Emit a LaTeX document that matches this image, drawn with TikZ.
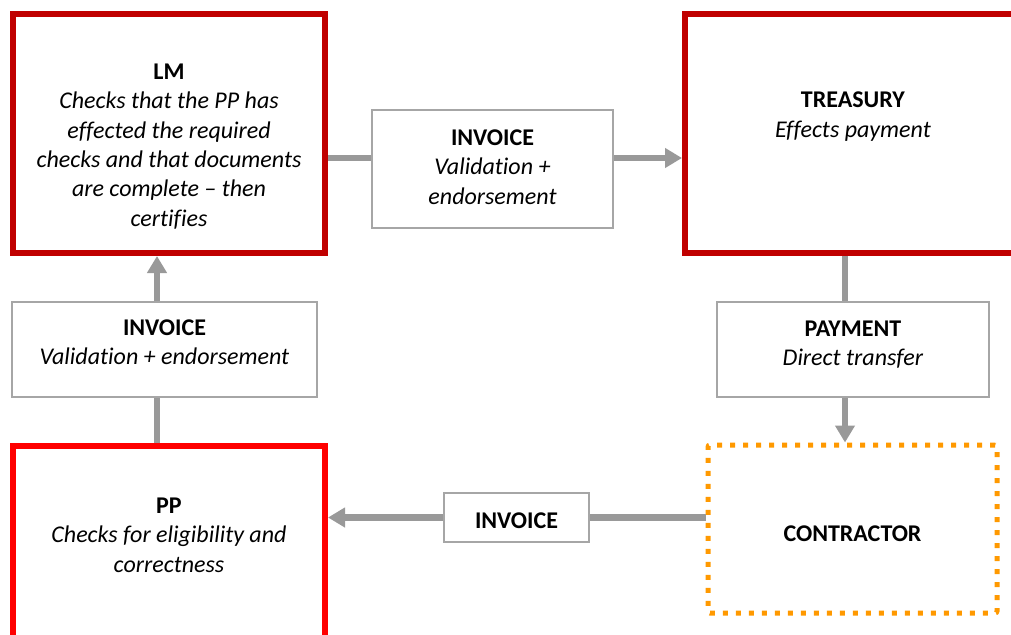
\documentclass[tikz,border=0pt]{standalone}
\usepackage{fontspec}
\setmainfont{Carlito}[Ligatures=CommonOff]
\usetikzlibrary{arrows.meta}
\definecolor{dred}{HTML}{C00000}
\definecolor{bred}{HTML}{FF0000}
\definecolor{conn}{HTML}{999999}
\definecolor{boxgray}{HTML}{A6A6A6}
\definecolor{orng}{HTML}{FF9900}
\begin{document}
\begin{tikzpicture}[x=1pt,y=-1pt,
  tx/.style={font=\fontsize{24}{29.3}\selectfont, align=center, text=black},
  darkbox/.style={draw=dred, line width=6pt, inner sep=0pt},
  brightbox/.style={draw=bred, line width=6pt, inner sep=0pt},
  graybox/.style={draw=boxgray, line width=2pt, fill=white, inner sep=0pt},
  dotbox/.style={draw=orng, line width=5pt, dash pattern=on 5pt off 8pt, rounded corners=2pt, inner sep=0pt},
  link/.style={draw=conn, line width=6.5pt},
  arrowlink/.style={link, -{Triangle[length=17pt,width=19pt]}}
]
\useasboundingbox (0,0) rectangle (1011,634);
\clip (0,0) rectangle (1011,634);

% main boxes
\node[darkbox, minimum width=312pt, minimum height=239pt,
  label={[tx, yshift=-13pt]center:{\textbf{LM}\\\textit{Checks that the PP has}\\\textit{effected the required}\\\textit{checks and that documents}\\\textit{are complete – then}\\\textit{certifies}}}]
  (lm) at (169,133.5) {};
\node[darkbox, minimum width=336pt, minimum height=239pt,
  label={[tx, yshift=17pt]center:{\textbf{TREASURY}\\\textit{Effects payment}}}]
  (treas) at (853,133.5) {};
\node[brightbox, minimum width=312pt, minimum height=214pt,
  label={[tx, yshift=18pt]center:{\textbf{PP}\\\textit{Checks for eligibility and}\\\textit{correctness}}}]
  (pp) at (169,553) {};
\node[dotbox, minimum width=289pt, minimum height=168pt,
  label={[tx, yshift=-5pt]center:{\textbf{CONTRACTOR}}}]
  (con) at (852.5,529) {};

% gray boxes
\node[graybox, minimum width=241pt, minimum height=118pt,
  label={[tx, yshift=2pt]center:{\textbf{INVOICE}\\\textit{Validation +}\\\textit{endorsement}}}]
  (inv1) at (492.5,169) {};
\node[graybox, minimum width=305pt, minimum height=95pt,
  label={[tx, yshift=7pt]center:{\textbf{INVOICE}\\\textit{Validation + endorsement}}}]
  (inv2) at (164.5,349.5) {};
\node[graybox, minimum width=272pt, minimum height=95pt,
  label={[tx, yshift=5pt]center:{\textbf{PAYMENT}\\\textit{Direct transfer}}}]
  (pay) at (853,349.5) {};
\node[graybox, minimum width=145pt, minimum height=49pt,
  label={[tx, yshift=-3pt]center:{\textbf{INVOICE}}}]
  (inv3) at (516.5,517.5) {};

% connectors
\coordinate (a1) at ([yshift=11pt]inv1.west);
\coordinate (a2) at ([yshift=11pt]inv1.east);
\draw[link] (lm.east |- a1) -- (a1);
\draw[arrowlink] (a2) -- (treas.west |- a2);

\coordinate (b1) at ([xshift=-7.5pt]inv2.north);
\coordinate (b2) at ([xshift=-7.5pt]inv2.south);
\draw[arrowlink] (b1) -- (b1 |- lm.south);
\draw[link] (b2 |- pp.north) -- (b2);

\coordinate (c1) at ([xshift=-8pt]pay.north);
\coordinate (c2) at ([xshift=-8pt]pay.south);
\draw[link] (c1 |- treas.south) -- (c1);
\draw[arrowlink] (c2) -- (c2 |- con.north);

\draw[link] (con.west |- inv3.east) -- (inv3.east);
\draw[arrowlink] (inv3.west) -- (pp.east |- inv3.west);
\end{tikzpicture}
\end{document}
